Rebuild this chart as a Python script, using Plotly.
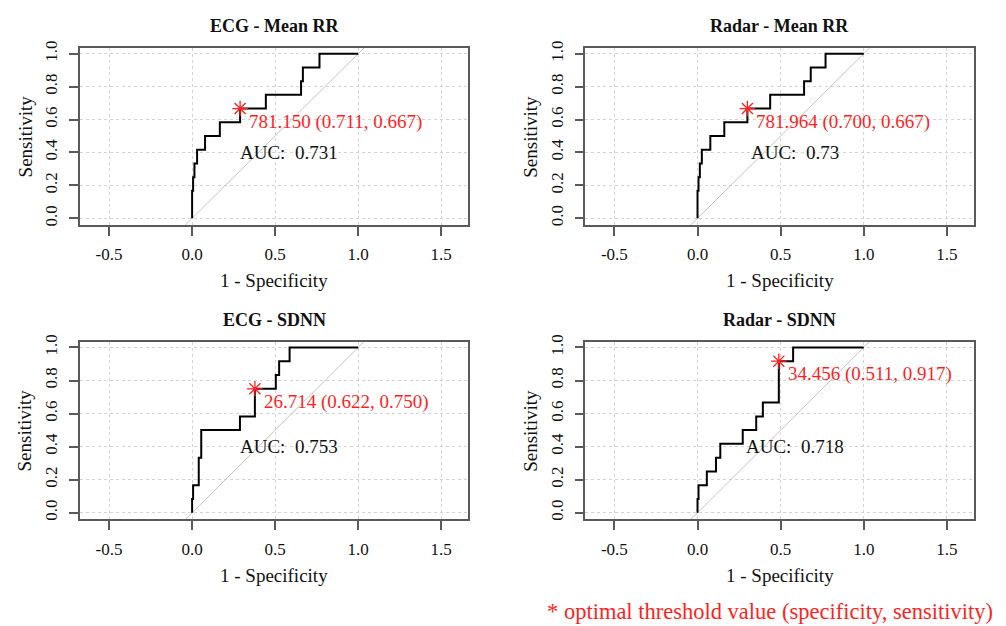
import plotly.graph_objects as go
from plotly.subplots import make_subplots

# ---------------- data ----------------
titles = ["ECG - Mean RR", "Radar - Mean RR", "ECG - SDNN", "Radar - SDNN"]

# ROC points (1 - specificity, sensitivity), drawn as steps
ecg_rr_fpr = [0, 0, 0.006, 0.014, 0.03, 0.078, 0.167, 0.289, 0.444, 0.656, 0.667, 0.767, 1.0]
ecg_rr_tpr = [0, 0.167, 0.25, 0.333, 0.417, 0.5, 0.583, 0.667, 0.75, 0.833, 0.917, 1.0, 1.0]

radar_rr_fpr = [0, 0, 0.006, 0.014, 0.026, 0.077, 0.161, 0.300, 0.437, 0.641, 0.681, 0.770, 1.0]
radar_rr_tpr = [0, 0.167, 0.25, 0.333, 0.417, 0.5, 0.583, 0.667, 0.75, 0.833, 0.917, 1.0, 1.0]

ecg_sdnn_fpr = [0, 0, 0.006, 0.040, 0.055, 0.288, 0.378, 0.504, 0.524, 0.587, 1.0]
ecg_sdnn_tpr = [0, 0.083, 0.167, 0.333, 0.5, 0.583, 0.75, 0.833, 0.917, 1.0, 1.0]

radar_sdnn_fpr = [0, 0, 0.006, 0.056, 0.111, 0.137, 0.272, 0.353, 0.393, 0.489, 0.575, 1.0]
radar_sdnn_tpr = [0, 0.083, 0.167, 0.25, 0.333, 0.417, 0.5, 0.583, 0.667, 0.917, 1.0, 1.0]

# optimal thresholds: value, specificity, sensitivity
thr_values = ["781.150", "781.964", "26.714", "34.456"]
thr_spec = [0.711, 0.700, 0.622, 0.511]
thr_sens = [0.667, 0.667, 0.750, 0.917]

auc_values = ["0.731", "0.73", "0.753", "0.718"]

diag_ref = [-1, 2]
x_ticks = [-0.5, 0.0, 0.5, 1.0, 1.5]
y_ticks = [0.0, 0.2, 0.4, 0.6, 0.8, 1.0]

curves = [
    (ecg_rr_fpr, ecg_rr_tpr),
    (radar_rr_fpr, radar_rr_tpr),
    (ecg_sdnn_fpr, ecg_sdnn_tpr),
    (radar_sdnn_fpr, radar_sdnn_tpr),
]

# ---------------- layout ----------------
W, H = 1006, 626
x_domains = [(80 / W, 468.3 / W), (585.3 / W, 974 / W)]
y_domains = [(1 - 220.7 / H, 1 - 41.5 / H), (1 - 519 / H, 1 - 339 / H)]

FONT = "Liberation Serif"
RED = "#ff1f1f"
FRAME = "#5a5a5a"

fig = make_subplots(rows=2, cols=2)

annotations = []
for i in range(4):
    r, c = i // 2 + 1, i % 2 + 1
    fpr, tpr = curves[i]
    fig.add_trace(go.Scatter(x=diag_ref, y=diag_ref, mode="lines",
                             line=dict(color="#c4c4c4", width=1),
                             hoverinfo="skip", showlegend=False), row=r, col=c)
    fig.add_trace(go.Scatter(x=fpr, y=tpr, mode="lines", line_shape="hv",
                             line=dict(color="black", width=2),
                             showlegend=False), row=r, col=c)
    sx = 1 - thr_spec[i]
    sy = thr_sens[i]
    fig.add_trace(go.Scatter(x=[sx], y=[sy], mode="markers",
                             marker=dict(symbol="asterisk-open", size=13, color=RED,
                                         line=dict(color=RED, width=1.3)),
                             showlegend=False), row=r, col=c)
    suffix = "" if i == 0 else str(i + 1)
    xref, yref = "x" + suffix, "y" + suffix
    annotations.append(dict(
        x=sx, y=sy, xref=xref, yref=yref, xanchor="left", yanchor="middle",
        xshift=7, yshift=-13, showarrow=False,
        text=f"{thr_values[i]} ({thr_spec[i]:.3f}, {thr_sens[i]:.3f})",
        font=dict(family=FONT, size=19, color=RED)))
    annotations.append(dict(
        x=0.585, y=0.4, xref=xref, yref=yref, xanchor="center", yanchor="middle",
        showarrow=False, text=f"AUC:  {auc_values[i]}",
        font=dict(family=FONT, size=19, color="#111111")))
    # titles
    annotations.append(dict(
        x=0.5, y=1, xref=xref + " domain", yref=yref + " domain",
        xanchor="center", yanchor="middle", yshift=22, showarrow=False,
        text=f"<b>{titles[i]}</b>", font=dict(family=FONT, size=18, color="#111111")))
    annotations.append(dict(
        x=0.5, y=0, xref=xref + " domain", yref=yref + " domain",
        xanchor="center", yanchor="middle", yshift=-56, showarrow=False,
        text="1 - Specificity", font=dict(family=FONT, size=19, color="#111111")))
    annotations.append(dict(
        x=0, y=0.5, xref=xref + " domain", yref=yref + " domain",
        xanchor="center", yanchor="middle", xshift=-55, showarrow=False,
        textangle=-90, text="Sensitivity",
        font=dict(family=FONT, size=19, color="#111111")))

    fig.update_xaxes(domain=list(x_domains[c - 1]), range=[-0.675, 1.663],
                     tickvals=x_ticks, ticktext=[f"{v:.1f}" for v in x_ticks],
                     showline=True, mirror=True, linecolor=FRAME, linewidth=1.5,
                     ticks="outside", ticklen=9, tickwidth=1.5, tickcolor=FRAME,
                     ticklabelstandoff=4,
                     showgrid=True, gridcolor="#d4d4d4", griddash="dot", gridwidth=1,
                     zeroline=False, tickfont=dict(family=FONT, size=17, color="#111111"),
                     row=r, col=c)
    fig.update_yaxes(domain=list(y_domains[r - 1]), range=[-0.04, 1.035],
                     tickvals=y_ticks, ticktext=[f"{v:.1f}" for v in y_ticks],
                     tickangle=-90,
                     showline=True, mirror=True, linecolor=FRAME, linewidth=1.5,
                     ticks="outside", ticklen=9, tickwidth=1.5, tickcolor=FRAME,
                     ticklabelstandoff=5,
                     showgrid=True, gridcolor="#d4d4d4", griddash="dot", gridwidth=1,
                     zeroline=False, tickfont=dict(family=FONT, size=17, color="#111111"),
                     row=r, col=c)

annotations.append(dict(
    x=995 / W, y=1 - 612 / H, xref="paper", yref="paper",
    xanchor="right", yanchor="middle", showarrow=False,
    text="* optimal threshold value (specificity, sensitivity)",
    font=dict(family=FONT, size=22.5, color=RED)))

fig.update_layout(width=W, height=H, margin=dict(l=0, r=0, t=0, b=0),
                  plot_bgcolor="white", paper_bgcolor="white",
                  annotations=annotations, showlegend=False)

fig.write_html("out.html")
